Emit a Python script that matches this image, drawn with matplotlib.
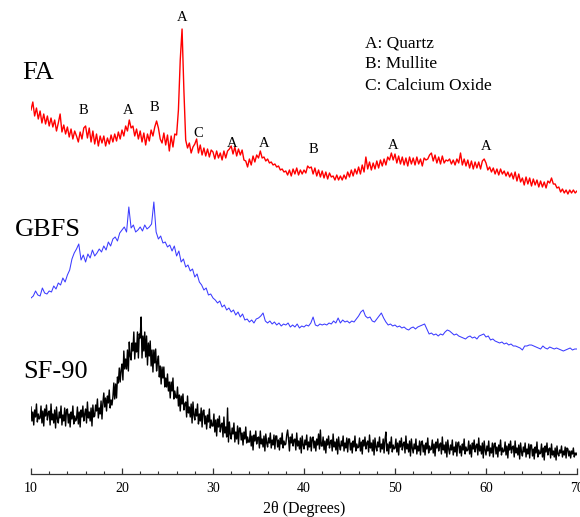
import numpy as np
import matplotlib
matplotlib.use("Agg")
import matplotlib.pyplot as plt
from matplotlib.ticker import MultipleLocator

# --- XRD scan settings (2-theta, degrees) ---
scan_start = 10.0
fa_step = 0.2
gbfs_step = 0.25
sf_step = 0.1

# --- Intensities (a.u.), each relative to its own baseline ---
fa_counts = [
    84, 92, 78, 86, 75, 83, 71, 80, 70, 78,
    68, 76, 67, 74, 63, 71, 80, 62, 69, 60,
    67, 57, 65, 55, 63, 58, 52, 62, 55, 66,
    68, 56, 66, 52, 63, 50, 60, 48, 58, 51,
    58, 48, 56, 50, 59, 52, 60, 53, 62, 55,
    64, 58, 68, 63, 74, 66, 68, 58, 65, 55,
    63, 52, 61, 49, 60, 53, 64, 58, 67, 73,
    66, 55, 51, 61, 49, 59, 43, 58, 47, 60,
    59, 84, 134, 165, 104, 54, 46, 51, 41, 47,
    50, 55, 41, 49, 39, 46, 38, 45, 37, 44,
    42, 35, 43, 36, 41, 34, 43, 36, 43, 45,
    48, 40, 47, 38, 45, 39, 44, 34, 33, 27,
    35, 29, 38, 32, 39, 36, 43, 36, 37, 33,
    35, 31, 32, 29, 30, 27, 28, 24, 25, 22,
    23, 19, 24, 18, 25, 20, 26, 19, 24, 20,
    24, 21, 28, 26, 27, 20, 26, 18, 24, 17,
    23, 16, 22, 15, 21, 17, 18, 14, 19, 14,
    18, 14, 19, 15, 22, 17, 24, 18, 25, 20,
    27, 20, 29, 22, 37, 25, 32, 24, 31, 25,
    33, 26, 34, 28, 35, 29, 37, 34, 41, 34,
    40, 31, 38, 30, 37, 29, 36, 28, 37, 30,
    36, 29, 37, 30, 35, 28, 36, 34, 35, 39,
    41, 33, 39, 31, 37, 30, 38, 31, 34, 33,
    35, 30, 34, 29, 35, 31, 41, 29, 35, 28,
    34, 26, 33, 25, 32, 26, 32, 25, 33, 35,
    31, 24, 27, 22, 26, 20, 25, 19, 25, 20,
    23, 18, 22, 17, 21, 15, 22, 13, 20, 12,
    16, 9, 17, 10, 16, 8, 15, 9, 14, 7,
    13, 7, 12, 6, 13, 11, 16, 10, 10, 6,
    7, 2, 5, 1, 4, 0, 4, 1, 4, 1, 3,
]

gbfs_counts = [
    56, 58, 63, 59, 58, 66, 61, 60, 63, 62,
    68, 65, 71, 69, 76, 72, 79, 84, 95, 101,
    105, 110, 94, 99, 92, 100, 96, 104, 98, 101,
    105, 102, 108, 104, 112, 108, 115, 117, 113, 121,
    124, 127, 122, 147, 126, 129, 122, 124, 127, 123,
    129, 125, 127, 130, 152, 122, 115, 118, 111, 112,
    107, 109, 103, 108, 98, 103, 92, 95, 87, 89,
    83, 85, 77, 80, 72, 69, 64, 66, 59, 60,
    56, 54, 51, 53, 47, 49, 44, 46, 42, 44,
    39, 42, 37, 40, 34, 35, 32, 34, 31, 35,
    36, 38, 41, 33, 31, 33, 30, 32, 29, 31,
    28, 30, 29, 31, 27, 29, 27, 30, 26, 28,
    27, 29, 28, 31, 37, 29, 28, 30, 29, 30,
    29, 31, 30, 33, 31, 36, 31, 34, 32, 33,
    31, 33, 32, 35, 38, 42, 44, 38, 36, 37,
    33, 32, 35, 38, 41, 36, 32, 29, 30, 28,
    29, 27, 28, 26, 27, 25, 24, 26, 27, 25,
    27, 28, 29, 30, 25, 20, 21, 19, 20, 18,
    20, 19, 22, 24, 23, 21, 19, 20, 18, 17,
    16, 15, 17, 18, 16, 17, 15, 18, 19, 20,
    17, 18, 14, 15, 13, 12, 11, 12, 10, 11,
    9, 10, 8, 8, 7, 6, 4, 8, 8, 9,
    9, 8, 7, 6, 5, 8, 6, 5, 7, 6,
    5, 6, 5, 4, 3, 4, 5, 6, 4, 5, 5,
]

sf90_counts = [
    67, 53, 62, 49, 64, 57, 70, 52, 60, 55,
    56, 68, 51, 63, 48, 65, 58, 69, 54, 61,
    63, 49, 70, 54, 60, 51, 64, 46, 67, 55,
    51, 62, 56, 68, 49, 59, 53, 66, 48, 64,
    65, 51, 60, 47, 62, 55, 68, 50, 58, 53,
    55, 67, 50, 62, 47, 64, 57, 68, 53, 60,
    65, 51, 72, 56, 62, 53, 66, 48, 69, 57,
    58, 69, 63, 75, 56, 66, 60, 73, 55, 71,
    81, 67, 76, 63, 78, 71, 84, 66, 74, 69,
    77, 91, 75, 90, 76, 97, 91, 106, 92, 104,
    110, 94, 123, 105, 115, 105, 124, 103, 132, 118,
    114, 131, 123, 142, 115, 131, 122, 142, 116, 140,
    136, 157, 116, 138, 123, 142, 117, 138, 109, 131,
    118, 133, 108, 124, 102, 124, 111, 125, 103, 112,
    118, 97, 108, 90, 107, 96, 107, 87, 96, 87,
    100, 83, 92, 76, 92, 83, 96, 75, 83, 77,
    76, 87, 68, 79, 63, 78, 70, 80, 64, 70,
    72, 57, 78, 61, 67, 57, 70, 51, 72, 59,
    54, 65, 58, 70, 50, 60, 53, 66, 47, 63,
    64, 50, 58, 45, 59, 52, 65, 46, 54, 48,
    48, 60, 42, 54, 38, 55, 47, 58, 42, 49,
    51, 37, 57, 41, 47, 37, 66, 32, 52, 40,
    35, 46, 40, 51, 32, 42, 35, 48, 30, 46,
    46, 34, 41, 29, 42, 35, 47, 31, 37, 32,
    32, 43, 28, 38, 24, 39, 33, 43, 30, 36,
    37, 26, 43, 30, 35, 27, 38, 23, 40, 31,
    27, 36, 31, 41, 26, 34, 29, 39, 25, 38,
    38, 27, 34, 24, 36, 30, 41, 26, 33, 29,
    30, 39, 44, 35, 23, 37, 31, 40, 28, 34,
    35, 24, 41, 28, 33, 25, 36, 21, 38, 29,
    25, 34, 29, 39, 24, 32, 27, 37, 23, 36,
    37, 26, 33, 23, 35, 29, 40, 25, 44, 28,
    28, 37, 24, 33, 21, 35, 29, 38, 26, 32,
    34, 23, 40, 27, 32, 24, 35, 20, 37, 28,
    24, 33, 28, 38, 23, 31, 26, 36, 22, 35,
    35, 24, 31, 21, 33, 27, 38, 23, 30, 26,
    27, 36, 23, 32, 20, 34, 28, 37, 25, 31,
    33, 22, 39, 26, 31, 23, 34, 19, 36, 27,
    23, 32, 27, 37, 22, 30, 25, 35, 21, 34,
    42, 23, 30, 20, 32, 26, 37, 22, 29, 25,
    26, 35, 22, 31, 19, 33, 27, 36, 24, 30,
    32, 21, 38, 25, 30, 22, 33, 18, 35, 26,
    21, 30, 25, 35, 20, 28, 23, 33, 19, 32,
    33, 22, 29, 19, 31, 25, 36, 21, 28, 24,
    25, 34, 21, 30, 18, 32, 26, 35, 23, 29,
    31, 20, 37, 24, 29, 21, 32, 17, 34, 25,
    20, 29, 24, 34, 19, 27, 22, 32, 18, 31,
    32, 21, 28, 18, 30, 24, 35, 20, 27, 23,
    24, 33, 20, 29, 17, 31, 25, 34, 22, 28,
    30, 19, 36, 23, 28, 20, 31, 16, 33, 24,
    19, 28, 23, 33, 18, 26, 21, 31, 17, 30,
    31, 20, 27, 17, 29, 23, 34, 19, 26, 22,
    23, 32, 19, 28, 16, 30, 24, 33, 21, 27,
    28, 17, 33, 21, 26, 19, 29, 15, 31, 22,
    18, 27, 22, 31, 17, 25, 20, 30, 16, 29,
    29, 18, 25, 15, 27, 21, 32, 17, 24, 20,
    21, 30, 17, 26, 14, 28, 22, 31, 19, 25,
    26, 16, 30, 19, 23, 17, 26, 14, 28, 20,
    18, 24, 21, 28, 17, 23, 19, 27, 16, 26,
    25, 18, 23, 16, 23, 20, 26, 17, 21, 19,
    21,
]

# vertical stacking offsets of the three patterns
sample_names = ["FA", "GBFS", "SF-90"]
stack_offsets = [280, 120, 0]

# phase markers on the FA pattern: (letter, 2-theta, height)
phase_letters = ["A", "B", "A", "B", "C", "A", "A", "B", "A", "A"]
phase_angles = [26.6, 15.8, 20.7, 23.6, 28.4, 32.1, 35.6, 41.0, 49.8, 60.0]
phase_heights = [457, 364, 364, 367, 341, 331, 331, 325, 329, 328]

phase_legend = ["A: Quartz", "B: Mullite", "C: Calcium Oxide"]
x_ticks = [10, 20, 30, 40, 50, 60, 70]

serif = "Liberation Serif"

W, H = 580, 517
fig = plt.figure(figsize=(W / 100, H / 100), dpi=100)
ax = fig.add_axes([31 / W, (H - 474) / H, (577 - 31) / W, 474 / H])

def scan(counts, step):
    return scan_start + step * np.arange(len(counts))

ax.plot(scan(fa_counts, fa_step), np.array(fa_counts) + stack_offsets[0],
        color="#ff0000", lw=1.0)
ax.plot(scan(gbfs_counts, gbfs_step), np.array(gbfs_counts) + stack_offsets[1],
        color="#3b3bff", lw=0.75)
ax.plot(scan(sf90_counts, sf_step), np.array(sf90_counts) + stack_offsets[2],
        color="black", lw=1.0)

ax.set_xlim(10, 70)
ax.set_ylim(0, 474)

for s in ["left", "right", "top"]:
    ax.spines[s].set_visible(False)
ax.spines["bottom"].set_color("#333333")
ax.spines["bottom"].set_linewidth(0.9)
ax.set_yticks([])
ax.set_xticks(x_ticks)
ax.xaxis.set_minor_locator(MultipleLocator(2))
ax.tick_params(axis="x", which="major", direction="in", length=4, width=0.9,
               color="#333333", pad=6)
ax.tick_params(axis="x", which="minor", direction="in", length=2.5, width=0.8,
               color="#333333")
for lab in ax.get_xticklabels():
    lab.set_fontfamily(serif)
    lab.set_fontsize(10)

# sample labels
for name, px, py in zip(sample_names, [22, 15, 23], [73, 230, 372]):
    fig.text(px / W, 1 - py / H, name, fontfamily=serif, fontsize=19,
             ha="left", va="center")

# phase letters above the FA peaks
for letter, xa, ya in zip(phase_letters, phase_angles, phase_heights):
    ax.text(xa, ya, letter, fontfamily=serif, fontsize=10.5,
            ha="center", va="center")

# phase key
for i, entry in enumerate(phase_legend):
    fig.text(365 / W, 1 - (43 + 21.5 * i) / H, entry, fontfamily=serif,
             fontsize=12.5, ha="left", va="center")

fig.text(304 / W, 1 - 509 / H, "2θ (Degrees)", fontfamily=serif, fontsize=11.5,
         ha="center", va="center")

fig.savefig("out.png", dpi=100)
